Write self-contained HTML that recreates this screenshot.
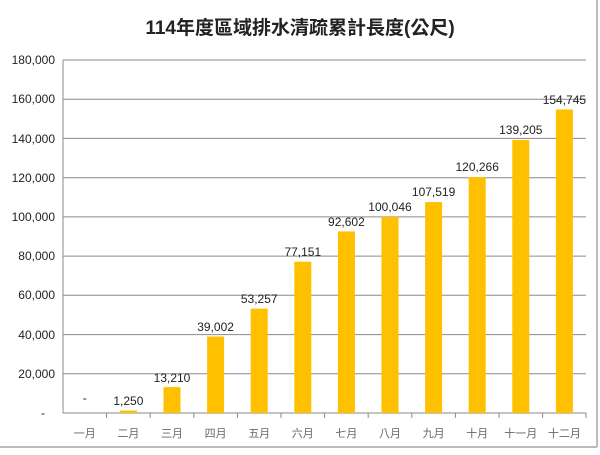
<!DOCTYPE html><html><head><meta charset="utf-8"><style>body{margin:0;background:#fff}</style></head><body>
<svg width="600" height="450" xmlns="http://www.w3.org/2000/svg" font-family="Liberation Sans, Noto Sans CJK TC, sans-serif">
<rect x="0" y="0" width="600" height="450" fill="#fff"/>
<line x1="597" y1="0" x2="597" y2="447" stroke="#bbb" stroke-width="2"/>
<line x1="0" y1="447" x2="597" y2="447" stroke="#bbb" stroke-width="2"/>
<text x="300" y="34" font-size="19" font-weight="bold" text-anchor="middle" fill="#222">114年度區域排水清疏累計長度(公尺)</text>
<g stroke="#8a8a8a" stroke-width="1">
<line x1="63" y1="60" x2="586" y2="60"/><line x1="63" y1="99.2" x2="586" y2="99.2"/><line x1="63" y1="138.4" x2="586" y2="138.4"/><line x1="63" y1="177.7" x2="586" y2="177.7"/><line x1="63" y1="216.9" x2="586" y2="216.9"/><line x1="63" y1="256.1" x2="586" y2="256.1"/><line x1="63" y1="295.3" x2="586" y2="295.3"/><line x1="63" y1="334.6" x2="586" y2="334.6"/><line x1="63" y1="373.8" x2="586" y2="373.8"/>
<line x1="63" y1="413" x2="586" y2="413"/><line x1="63" y1="60" x2="63" y2="413"/>
<line x1="106.6" y1="413" x2="106.6" y2="418"/><line x1="150.2" y1="413" x2="150.2" y2="418"/><line x1="193.8" y1="413" x2="193.8" y2="418"/><line x1="237.4" y1="413" x2="237.4" y2="418"/><line x1="281" y1="413" x2="281" y2="418"/><line x1="324.6" y1="413" x2="324.6" y2="418"/><line x1="368.2" y1="413" x2="368.2" y2="418"/><line x1="411.8" y1="413" x2="411.8" y2="418"/><line x1="455.4" y1="413" x2="455.4" y2="418"/><line x1="499" y1="413" x2="499" y2="418"/><line x1="542.6" y1="413" x2="542.6" y2="418"/><line x1="586" y1="413" x2="586" y2="418"/>
</g>
<g font-size="12" fill="#222" text-anchor="end">
<text x="55" y="64">180,000</text><text x="55" y="103">160,000</text><text x="55" y="143">140,000</text><text x="55" y="182">120,000</text><text x="55" y="221">100,000</text><text x="55" y="260">80,000</text><text x="55" y="299">60,000</text><text x="55" y="339">40,000</text><text x="55" y="378">20,000</text><text x="45" y="417">-</text>
</g>
<g fill="#FFC000">
<rect x="119.9" y="410.5" width="17" height="2.5"/><rect x="163.5" y="387.1" width="17" height="25.9"/><rect x="207.1" y="336.5" width="17" height="76.5"/><rect x="250.7" y="308.6" width="17" height="104.4"/><rect x="294.3" y="261.7" width="17" height="151.3"/><rect x="337.9" y="231.4" width="17" height="181.6"/><rect x="381.5" y="216.8" width="17" height="196.2"/><rect x="425.1" y="202.1" width="17" height="210.9"/><rect x="468.7" y="177.1" width="17" height="235.9"/><rect x="512.3" y="140" width="17" height="273"/><rect x="555.9" y="109.5" width="17" height="303.5"/>
</g>
<g font-size="12" fill="#222" text-anchor="middle">
<text x="84.8" y="402">-</text><text x="128.4" y="405">1,250</text><text x="172" y="382">13,210</text><text x="215.6" y="331">39,002</text><text x="259.2" y="303">53,257</text><text x="302.8" y="256">77,151</text><text x="346.4" y="226">92,602</text><text x="390" y="211">100,046</text><text x="433.6" y="196">107,519</text><text x="477.2" y="171">120,266</text><text x="520.8" y="134">139,205</text><text x="564.4" y="104">154,745</text>
</g>
<g font-size="11" fill="#666" text-anchor="middle">
<text x="84.8" y="437">一月</text><text x="128.4" y="437">二月</text><text x="172" y="437">三月</text><text x="215.6" y="437">四月</text><text x="259.2" y="437">五月</text><text x="302.8" y="437">六月</text><text x="346.4" y="437">七月</text><text x="390" y="437">八月</text><text x="433.6" y="437">九月</text><text x="477.2" y="437">十月</text><text x="520.8" y="437">十一月</text><text x="564.4" y="437">十二月</text>
</g>
</svg>
</body></html>
